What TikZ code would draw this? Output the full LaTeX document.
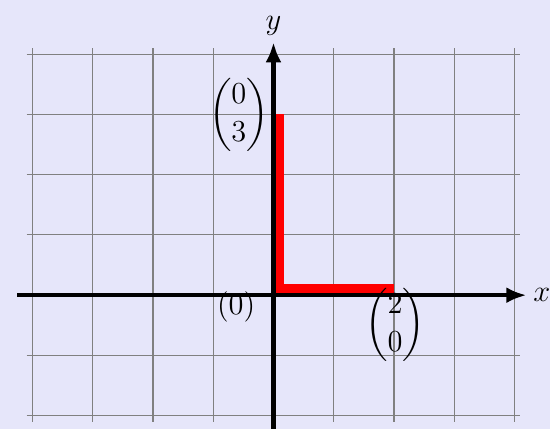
\documentclass[tikz,border=0pt]{standalone}
\usepackage{amsmath}
\usetikzlibrary{arrows.meta}
\definecolor{lavbg}{RGB}{230,230,250}

\begin{document}
\begin{tikzpicture}[every node/.style={inner sep=3pt,font=\Large},
  gridline/.style={gray,line width=0.5pt},
  axisline/.style={line width=2pt,-{Latex[length=9.5pt,width=7.5pt]}},
  vecline/.style={red,line width=4pt,miter limit=10}]
\fill[lavbg] (-4.54,-2.22) rectangle (4.59,4.90);
\useasboundingbox (-4.54,-2.22) rectangle (4.59,4.90);
\draw[gridline] (-4.1,-2.1) grid (4.1,4.1);
\coordinate (xstart) at (-4.25,0);\coordinate (xend) at (4.2,0);
\coordinate (ystart) at (0,-2.22);\coordinate (yend) at (0,4.2);
\coordinate (top) at (0.11,3);\coordinate (corner) at (0.11,0.11);\coordinate (right) at (2,0.11);
\draw[vecline] (top)--(corner)--(right);
\draw[axisline] (xstart)--(xend);\draw[axisline] (ystart)--(yend);
\node[anchor=west] (xlabel) at (xend) {$x$};
\node[anchor=south] (ylabel) at (yend) {$y$};
\node[anchor=east,inner sep=2pt] (vthree) at (0,3) {$\begin{pmatrix}0\\3\end{pmatrix}$};
\node (vzero) at (-0.62,-0.2) {$(0)$};
\node (vtwo) at (2.02,-0.5) {$\begin{pmatrix}2\\0\end{pmatrix}$};
\end{tikzpicture}
\end{document}
